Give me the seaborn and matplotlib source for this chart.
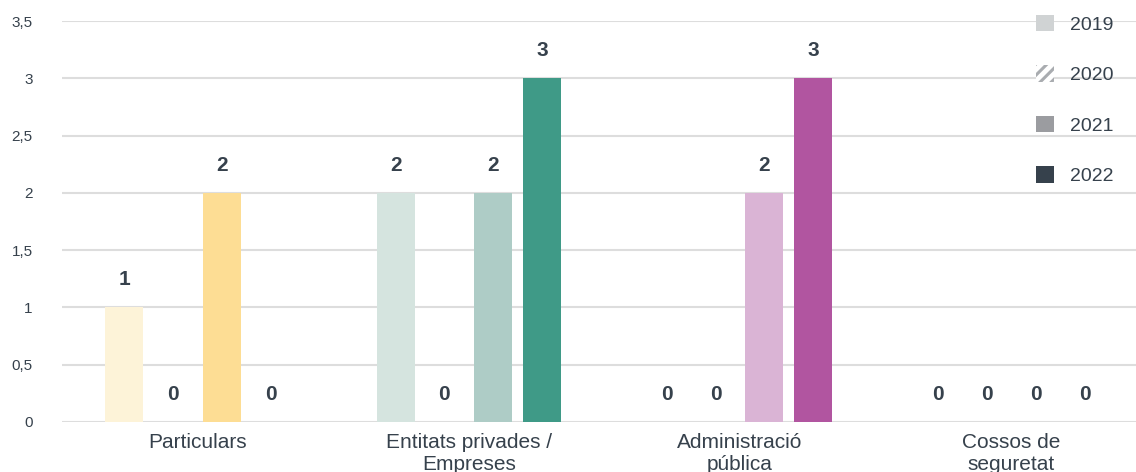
import matplotlib
matplotlib.use("Agg")
import matplotlib.pyplot as plt
from matplotlib.patches import Patch
import pandas as pd
import seaborn as sns

# Data
categories = ["Particulars", "Entitats privades /\nEmpreses",
              "Administració\npública", "Cossos de\nseguretat"]
years = ["2019", "2020", "2021", "2022"]
v2019 = [1, 2, 0, 0]
v2020 = [0, 0, 0, 0]
v2021 = [2, 2, 2, 0]
v2022 = [0, 3, 3, 0]
y_ticks = [0, 0.5, 1, 1.5, 2, 2.5, 3, 3.5]
y_tick_labels = ["0", "0,5", "1", "1,5", "2", "2,5", "3", "3,5"]

# Colour family for every category (one shade per year)
bar_colors = {
    0: ["#FDF3D8", "#FEE9B6", "#FDDD94", "#F6C553"],
    1: ["#D5E4DF", "#C2D8D2", "#AECCC6", "#3F9A87"],
    2: ["#EDD9EA", "#E4C7E0", "#DAB4D5", "#B155A0"],
    3: ["#D6DEE8", "#BFCBD9", "#A5B6CA", "#5A7391"],
}
legend_colors = ["#D0D3D4", "#A9ACB0", "#9B9CA0", "#36414C"]
text_dark = "#36414C"
grid_col = "#DDDDDD"

values = [v2019, v2020, v2021, v2022]
df = pd.DataFrame({
    "categoria": [c for vs in values for c in categories],
    "any": [y for y, vs in zip(years, values) for _ in vs],
    "valor": [v for vs in values for v in vs],
})

sns.set_theme(style="white")
plt.rcParams["font.family"] = ["Liberation Sans", "DejaVu Sans"]
plt.rcParams["hatch.linewidth"] = 2.2

fig, ax = plt.subplots(figsize=(11.36, 4.72), dpi=100)
fig.subplots_adjust(left=0.0546, right=1.0, top=0.9555, bottom=0.106)

sns.barplot(data=df, x="categoria", y="valor", hue="any", order=categories,
            hue_order=years, palette=legend_colors, width=0.72, gap=0.22,
            legend=False, ax=ax, zorder=3)

# Recolour each bar with its category's shade and add value labels
for hi, cont in enumerate(ax.containers):
    for bar in cont:
        cx = bar.get_x() + bar.get_width() / 2
        ci = int(round(cx))
        bar.set_facecolor(bar_colors[ci][hi])
        bar.set_edgecolor("none")
        h = bar.get_height()
        ax.annotate(f"{h:g}", (cx, h), xytext=(0, 20), textcoords="offset points",
                    ha="center", va="center", fontsize=15, fontweight="bold",
                    color=text_dark, zorder=4)

ax.set_ylim(0, 3.5)
ax.set_xlim(-0.5, 3.46)
ax.set_yticks(y_ticks)
ax.set_yticklabels(y_tick_labels)
ax.yaxis.grid(True, color=grid_col, linewidth=1.5, zorder=0)
ax.set_axisbelow(True)
for s in ax.spines.values():
    s.set_visible(False)
ax.tick_params(axis="y", length=0, pad=21, labelsize=11, labelcolor=text_dark)
ax.tick_params(axis="x", length=0, pad=8, labelsize=15, labelcolor=text_dark)
for lab in ax.get_xticklabels():
    lab.set_linespacing(1.2)
ax.set_xlabel("")
ax.set_ylabel("")

handles = [Patch(facecolor=legend_colors[0], edgecolor="none"),
           Patch(facecolor="white", edgecolor=legend_colors[1], hatch="///", linewidth=0),
           Patch(facecolor=legend_colors[2], edgecolor="none"),
           Patch(facecolor=legend_colors[3], edgecolor="none")]
leg = fig.legend(handles, years, loc="upper left", bbox_to_anchor=(0.9036, 0.989),
                 frameon=False, fontsize=14, handlelength=0.93, handleheight=0.93,
                 handletextpad=0.8, labelspacing=1.62, borderpad=0)
for t in leg.get_texts():
    t.set_color(text_dark)

fig.savefig("out.png", dpi=100, facecolor="white")
